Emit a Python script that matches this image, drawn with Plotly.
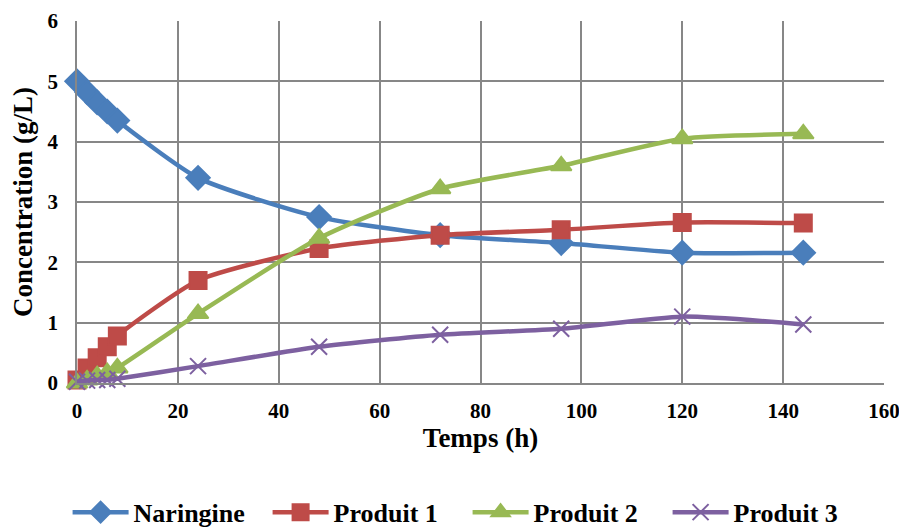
import plotly.graph_objects as go

temps = [0, 2, 4, 6, 8, 24, 48, 72, 96, 120, 144]
naringine = [5.0, 4.82, 4.65, 4.5, 4.35, 3.4, 2.75, 2.45, 2.32, 2.16, 2.16]
produit1 = [0.05, 0.25, 0.42, 0.6, 0.78, 1.7, 2.23, 2.45, 2.54, 2.66, 2.65]
produit2 = [0.0, 0.05, 0.12, 0.17, 0.25, 1.15, 2.4, 3.22, 3.6, 4.05, 4.13]
produit3 = [0.02, 0.04, 0.05, 0.05, 0.07, 0.28, 0.6, 0.8, 0.9, 1.1, 0.97]

series = [
    ("Naringine", naringine, "#4A7EBB", "diamond", 18),
    ("Produit 1", produit1, "#BE4B48", "square", 17),
    ("Produit 2", produit2, "#98B954", "triangle-up", 18),
    ("Produit 3", produit3, "#7D60A0", "x-thin", 16),
]

fig = go.Figure()
for name, vals, color, sym, size in series:
    fig.add_trace(go.Scatter(
        x=temps, y=vals, name=name, mode="lines+markers",
        line=dict(color=color, width=4.5, shape="spline", smoothing=0.6),
        marker=dict(symbol=sym, size=size, color=color,
                    line=dict(color=color, width=2)),
        cliponaxis=False,
    ))

font = "Liberation Serif, Times New Roman, serif"
# the page body adds an 8px offset, so the figure is 8px smaller and shifted
fig.update_layout(
    width=899, height=522,
    margin=dict(l=69, r=23, t=13, b=147, autoexpand=False),
    plot_bgcolor="white", paper_bgcolor="white",
    font=dict(family=font, size=21, color="black"),
    showlegend=True,
    legend=dict(orientation="h", x=0.484, xanchor="center", y=-0.357, yanchor="middle",
                font=dict(family=font, size=26, color="black", weight="bold"),
                itemwidth=56, entrywidth=129, tracegroupgap=0),
    xaxis=dict(
        range=[0, 160], dtick=20, tick0=0, automargin=False,
        showgrid=True, gridcolor="#878787", gridwidth=1.5,
        showline=True, linecolor="#878787", linewidth=1.5,
        ticks="", zeroline=False, ticklabelstandoff=8,
        tickfont=dict(family=font, size=21, color="black", weight="bold"),
        title=dict(text="<b>Temps (h)</b>", font=dict(family=font, size=27), standoff=6),
    ),
    yaxis=dict(
        range=[0, 6], dtick=1, tick0=0, automargin=False,
        showgrid=True, gridcolor="#878787", gridwidth=1.5,
        showline=True, linecolor="#878787", linewidth=1.5,
        ticks="", zeroline=False, ticklabelstandoff=13,
        tickfont=dict(family=font, size=21, color="black", weight="bold"),
        title=dict(text="<b>Concentration (g/L)</b>", font=dict(family=font, size=27), standoff=10),
    ),
)

fig.write_html("out.html")
